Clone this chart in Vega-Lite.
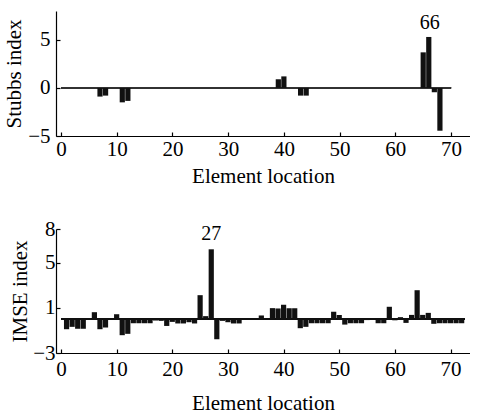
{
  "$schema": "https://vega.github.io/schema/vega-lite/v6.json",
  "background": "white",
  "padding": {"left": 3, "top": 11, "right": 0, "bottom": 2},
  "spacing": 32,
  "config": {
    "view": {"stroke": null},
    "font": "Liberation Serif",
    "axis": {
      "grid": false,
      "domainColor": "#000",
      "tickColor": "#000",
      "labelColor": "#000",
      "titleColor": "#000",
      "labelFont": "Liberation Serif",
      "titleFont": "Liberation Serif",
      "labelFontSize": 21,
      "titleFontSize": 21,
      "titleFontWeight": "normal",
      "tickSize": -4,
      "domainWidth": 1.2,
      "tickWidth": 1.2
    }
  },
  "datasets": {
    "stubbs": [
      {"loc": 7, "value": -0.9}, {"loc": 8, "value": -0.8},
      {"loc": 11, "value": -1.5}, {"loc": 12, "value": -1.35},
      {"loc": 39, "value": 0.9}, {"loc": 40, "value": 1.2},
      {"loc": 43, "value": -0.8}, {"loc": 44, "value": -0.8},
      {"loc": 65, "value": 3.7}, {"loc": 66, "value": 5.3},
      {"loc": 67, "value": -0.45}, {"loc": 68, "value": -4.45}
    ],
    "imse": [
      {"loc": 1, "value": -0.89}, {"loc": 2, "value": -0.68}, {"loc": 3, "value": -0.85}, {"loc": 4, "value": -0.85},
      {"loc": 5, "value": 0.09}, {"loc": 6, "value": 0.62}, {"loc": 7, "value": -0.89}, {"loc": 8, "value": -0.74},
      {"loc": 9, "value": 0.1}, {"loc": 10, "value": 0.44}, {"loc": 11, "value": -1.42}, {"loc": 12, "value": -1.3},
      {"loc": 13, "value": -0.36}, {"loc": 14, "value": -0.36}, {"loc": 15, "value": -0.36}, {"loc": 16, "value": -0.36},
      {"loc": 17, "value": -0.12}, {"loc": 18, "value": -0.15}, {"loc": 19, "value": -0.6}, {"loc": 20, "value": -0.24},
      {"loc": 21, "value": -0.38}, {"loc": 22, "value": -0.38}, {"loc": 23, "value": -0.27}, {"loc": 24, "value": -0.38},
      {"loc": 25, "value": 2.13}, {"loc": 26, "value": 0.27}, {"loc": 27, "value": 6.2}, {"loc": 28, "value": -1.78},
      {"loc": 29, "value": -0.15}, {"loc": 30, "value": -0.27}, {"loc": 31, "value": -0.38}, {"loc": 32, "value": -0.38},
      {"loc": 33, "value": 0}, {"loc": 34, "value": 0}, {"loc": 35, "value": 0}, {"loc": 36, "value": 0.33},
      {"loc": 37, "value": 0}, {"loc": 38, "value": 0.98}, {"loc": 39, "value": 0.95}, {"loc": 40, "value": 1.28},
      {"loc": 41, "value": 0.97}, {"loc": 42, "value": 0.97}, {"loc": 43, "value": -0.8}, {"loc": 44, "value": -0.68},
      {"loc": 45, "value": -0.36}, {"loc": 46, "value": -0.36}, {"loc": 47, "value": -0.36}, {"loc": 48, "value": -0.36},
      {"loc": 49, "value": 0.66}, {"loc": 50, "value": 0.37}, {"loc": 51, "value": -0.48}, {"loc": 52, "value": -0.36},
      {"loc": 53, "value": -0.36}, {"loc": 54, "value": -0.36}, {"loc": 55, "value": -0.08}, {"loc": 56, "value": 0.09},
      {"loc": 57, "value": -0.36}, {"loc": 58, "value": -0.36}, {"loc": 59, "value": 1.1}, {"loc": 60, "value": -0.1},
      {"loc": 61, "value": 0.18}, {"loc": 62, "value": -0.33}, {"loc": 63, "value": 0.38}, {"loc": 64, "value": 2.57},
      {"loc": 65, "value": 0.38}, {"loc": 66, "value": 0.56}, {"loc": 67, "value": -0.41}, {"loc": 68, "value": -0.36},
      {"loc": 69, "value": -0.36}, {"loc": 70, "value": -0.36}, {"loc": 71, "value": -0.36}, {"loc": 72, "value": -0.36}
    ]
  },
  "vconcat": [
    {
      "width": 414,
      "height": 125,
      "data": {"name": "stubbs"},
      "encoding": {
        "x": {
          "field": "loc", "type": "quantitative",
          "scale": {"domain": [0, 72.5], "nice": false, "zero": false},
          "axis": {"values": [0, 10, 20, 30, 40, 50, 60, 70], "title": "Element location", "labelPadding": 6, "titlePadding": 6}
        },
        "y": {
          "field": "value", "type": "quantitative",
          "scale": {"domain": [-5, 8], "nice": false},
          "axis": {"values": [-5, 0, 5], "title": "Stubbs index", "labelPadding": 10, "titlePadding": 3}
        }
      },
      "layer": [
        {
          "mark": {"type": "rule", "color": "#333", "strokeWidth": 1},
          "encoding": {"y": {"datum": 0}, "x": {"datum": 0}, "x2": {"datum": 70}}
        },
        {"mark": {"type": "bar", "color": "#111", "width": 5.2}},
        {
          "transform": [{"filter": "datum.loc == 66"}],
          "mark": {"type": "text", "baseline": "bottom", "dy": -4, "dx": 1, "fontSize": 20, "font": "Liberation Serif", "color": "#000"},
          "encoding": {"text": {"field": "loc", "type": "quantitative"}}
        }
      ]
    },
    {
      "width": 414,
      "height": 124,
      "data": {"name": "imse"},
      "encoding": {
        "x": {
          "field": "loc", "type": "quantitative",
          "scale": {"domain": [0, 72.6], "nice": false, "zero": false},
          "axis": {"values": [0, 10, 20, 30, 40, 50, 60, 70], "title": "Element location", "labelPadding": 9, "titlePadding": 13}
        },
        "y": {
          "field": "value", "type": "quantitative",
          "scale": {"domain": [-3, 8], "nice": false},
          "axis": {"values": [-3, 1, 5, 8], "title": "IMSE index", "labelPadding": 5, "titlePadding": 2}
        }
      },
      "layer": [
        {
          "mark": {"type": "rule", "color": "#111", "strokeWidth": 1},
          "encoding": {"y": {"datum": 0}, "x": {"datum": 0}, "x2": {"datum": 72.6}}
        },
        {"mark": {"type": "bar", "color": "#111", "width": 5.2}},
        {
          "transform": [{"filter": "datum.loc == 27"}],
          "mark": {"type": "text", "baseline": "bottom", "dy": -5, "fontSize": 20, "font": "Liberation Serif", "color": "#000"},
          "encoding": {"text": {"field": "loc", "type": "quantitative"}}
        }
      ]
    }
  ]
}
